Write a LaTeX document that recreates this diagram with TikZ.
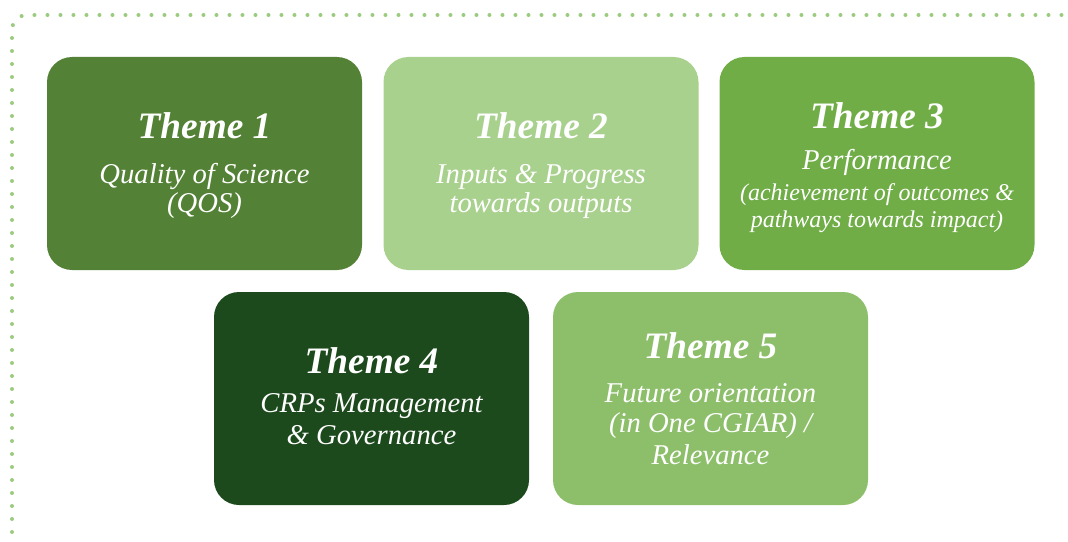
\documentclass[tikz,border=0pt]{standalone}
\usepackage{fontspec}
\setmainfont{Liberation Serif}
\definecolor{tone1}{HTML}{538135}
\definecolor{tone2}{HTML}{A9D18E}
\definecolor{tone3}{HTML}{70AD47}
\definecolor{tone4}{HTML}{1C4A1C}
\definecolor{tone5}{HTML}{8DBF6B}
\definecolor{dotc}{HTML}{9ACB7E}
\begin{document}
\begin{tikzpicture}[x=0.75pt,y=-0.75pt,
  themebox/.style={rounded corners=18.75pt, minimum width=236.25pt, minimum height=159.75pt, inner sep=0pt, draw=none},
  ttl/.style={anchor=base, text=white, inner sep=0pt, font=\fontsize{28}{30}\selectfont\bfseries\itshape},
  sub/.style={anchor=base, text=white, inner sep=0pt, font=\fontsize{21.5}{24}\selectfont\itshape},
  subsmall/.style={anchor=base, text=white, inner sep=0pt, font=\fontsize{18}{20}\selectfont\itshape}]
\useasboundingbox (0,0) rectangle (1068,542);
% dotted frame
\coordinate (fa) at (12,545);
\coordinate (fb) at (12,15);
\coordinate (fc) at (1070,15);
\draw[dotc, line width=3pt, line cap=round, dash pattern=on 0pt off 9.75pt, rounded corners=11.25pt] (fa) -- (fb) -- (fc);
% boxes
\node[themebox, fill=tone1] (b1) at (204.5,163.5) {};
\node[themebox, fill=tone2] (b2) at (541,163.5) {};
\node[themebox, fill=tone3] (b3) at (877,163.5) {};
\node[themebox, fill=tone4] (b4) at (371.5,398.5) {};
\node[themebox, fill=tone5] (b5) at (710.5,398.5) {};
% box 1
\node[ttl] (t1) at (204.5,138) {Theme 1};
\node[sub] (t1a) at (204.5,183) {Quality of Science};
\node[sub] (t1b) at (204.5,212) {(QOS)};
% box 2
\node[ttl] (t2) at (541,138) {Theme 2};
\node[sub] (t2a) at (541,183) {Inputs \& Progress};
\node[sub] (t2b) at (541,212) {towards outputs};
% box 3
\node[ttl] (t3) at (877,128) {Theme 3};
\node[sub] (t3a) at (877,170) {Performance};
\node[subsmall] (t3b) at (877,200) {(achievement of outcomes \&};
\node[subsmall] (t3c) at (877,227) {pathways towards impact)};
% box 4
\node[ttl] (t4) at (371.5,373) {Theme 4};
\node[sub] (t4a) at (371.5,412) {CRPs Management};
\node[sub] (t4b) at (371.5,444) {\& Governance};
% box 5
\node[ttl] (t5) at (710.5,358) {Theme 5};
\node[sub] (t5a) at (710.5,402) {Future orientation};
\node[sub] (t5b) at (710.5,432) {(in One CGIAR) /};
\node[sub] (t5c) at (710.5,464) {Relevance};
\end{tikzpicture}
\end{document}
